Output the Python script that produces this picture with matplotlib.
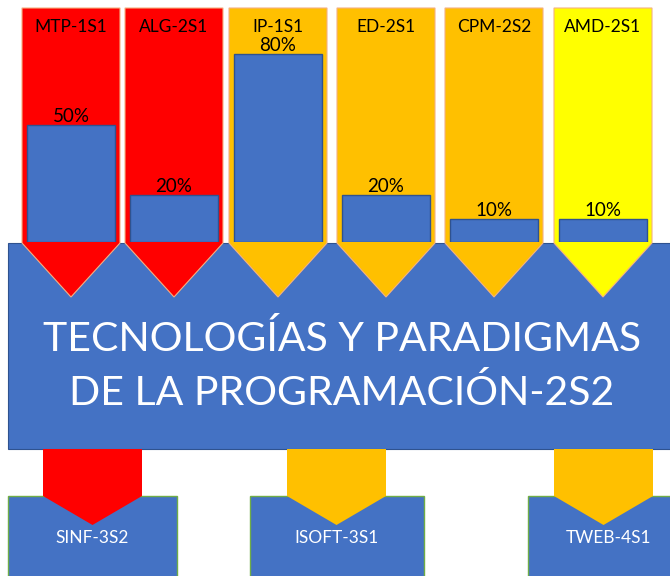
import matplotlib
matplotlib.use("Agg")
import matplotlib.pyplot as plt
from matplotlib.patches import Polygon, Rectangle

plt.rcParams['font.family'] = ['Lato', 'DejaVu Sans']

# Data
courses = ["MTP-1S1", "ALG-2S1", "IP-1S1", "ED-2S1", "CPM-2S2", "AMD-2S1"]
percent = [50, 20, 80, 20, 10, 10]
course_colors = ["#FF0000", "#FF0000", "#FFC000", "#FFC000", "#FFC000", "#FFFF00"]

target = "TECNOLOGÍAS Y PARADIGMAS\nDE LA PROGRAMACIÓN-2S2"

next_courses = ["SINF-3S2", "ISOFT-3S1", "TWEB-4S1"]
next_colors = ["#FF0000", "#FFC000", "#FFC000"]

BLUE = "#4472C4"

# layout (pixels, origin top-left)
W, H = 670, 576
arrow_left = [22, 125, 229, 337, 445, 554]
arrow_w = 98
arrow_top = 8
arrow_body = 243
arrow_tip = 297
px_per_pct = 2.35

fig = plt.figure(figsize=(W / 100, H / 100), dpi=100)
ax = fig.add_axes([0, 0, 1, 1])
ax.set_xlim(0, W)
ax.set_ylim(H, 0)
ax.axis("off")

# main box
ax.add_patch(Rectangle((8, 243), W, 206, facecolor=BLUE, edgecolor="#2F528F", lw=0.8, zorder=1))
ax.text(342, 366, target, color="white", fontsize=29.5, ha="center", va="center",
        linespacing=1.5, zorder=5)

# top arrows
for left, name, col in zip(arrow_left, courses, course_colors):
    r = left + arrow_w
    c = left + arrow_w / 2
    pts = [(left, arrow_top), (r, arrow_top), (r, arrow_body), (c, arrow_tip), (left, arrow_body)]
    ax.add_patch(Polygon(pts, closed=True, facecolor=col, edgecolor="#F4B183", lw=0.8, zorder=2))
    ax.text(c, 27, name, fontsize=12.5, ha="center", va="center", color="black", zorder=5)

# bottom boxes and arrows
box_left = [8, 250, 528]
box_w = [169, 174, 160]
barrow_left = [43, 287, 554]
barrow_w = 99
for bl, bw, al, name, col in zip(box_left, box_w, barrow_left, next_courses, next_colors):
    ax.add_patch(Rectangle((bl, 496), bw, 90, facecolor=BLUE, edgecolor="#70AD47", lw=1, zorder=1))
    c = al + barrow_w / 2
    pts = [(al, 449), (al + barrow_w, 449), (al + barrow_w, 496), (c, 525), (al, 496)]
    ax.add_patch(Polygon(pts, closed=True, facecolor=col, edgecolor="none", zorder=2))
    ax.text(bl + bw / 2, 538, name, fontsize=12.5, color="white", ha="center", va="center", zorder=5)

# percentage bars
bar_bottom = 242
bar_h = 100 * px_per_pct
ax2 = fig.add_axes([0, (H - bar_bottom) / H, 1, bar_h / H])
ax2.set_xlim(0, W)
ax2.set_ylim(0, 100)
ax2.axis("off")
centers = [l + arrow_w / 2 for l in arrow_left]
bars = ax2.bar(centers, percent, width=88, color=BLUE, edgecolor="#2F528F", lw=1, zorder=3)
ax2.bar_label(bars, labels=[f"{p}%" for p in percent], padding=0, fontsize=13.5)

fig.savefig("out.png", dpi=100)
